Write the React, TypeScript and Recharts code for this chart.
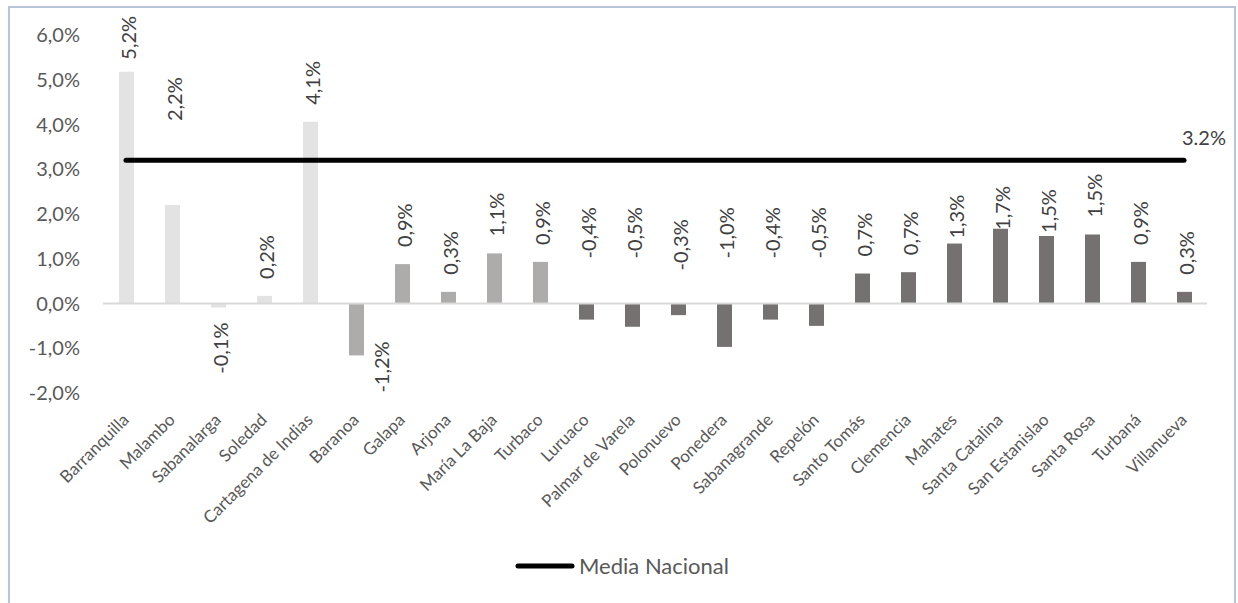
import React from 'react';
import { ComposedChart, Bar, Line, XAxis, YAxis, Cell, LabelList, Legend, ReferenceLine } from 'recharts';

// Variación por municipio (%)
const municipios = [
  'Barranquilla', 'Malambo', 'Sabanalarga', 'Soledad', 'Cartagena de Indias',
  'Baranoa', 'Galapa', 'Arjona', 'María La Baja', 'Turbaco',
  'Luruaco', 'Palmar de Varela', 'Polonuevo', 'Ponedera', 'Sabanagrande', 'Repelón',
  'Santo Tomás', 'Clemencia', 'Mahates', 'Santa Catalina', 'San Estanislao', 'Santa Rosa',
  'Turbaná', 'Villanueva',
];
const variacion = [
  5.18, 2.2, -0.09, 0.17, 4.06,
  -1.16, 0.88, 0.26, 1.12, 0.93,
  -0.36, -0.52, -0.26, -0.97, -0.36, -0.5,
  0.67, 0.7, 1.34, 1.67, 1.51, 1.54,
  0.93, 0.26,
];
const grupo = [
  'a', 'a', 'a', 'a', 'a',
  'b', 'b', 'b', 'b', 'b',
  'c', 'c', 'c', 'c', 'c', 'c',
  'c', 'c', 'c', 'c', 'c', 'c',
  'c', 'c',
];
const mediaNacional = 3.2;
const yTicks = [-2, -1, 0, 1, 2, 3, 4, 5, 6];

const data = municipios.map((m, i) => ({
  municipio: m,
  valor: variacion[i],
  grupo: grupo[i],
  media: mediaNacional,
}));

const FONT = 'Lato, "Open Sans", sans-serif';
const colores: Record<string, string> = { a: '#e3e3e3', b: '#aeabab', c: '#767171' };

// ajustes manuales de algunas etiquetas
const labelNudge: Record<string, { dx: number; dy: number }> = {
  Barranquilla: { dx: 0, dy: 5 },
  Malambo: { dx: 0, dy: -67 },
  Baranoa: { dx: 23, dy: -29 },
  Polonuevo: { dx: 0, dy: 12 },
  Mahates: { dx: 0, dy: 12 },
  'Santa Catalina': { dx: 0, dy: 18 },
  'San Estanislao': { dx: 0, dy: 14 },
};

const fmtComa = (v: number) => v.toFixed(1).replace('.', ',') + '%';

const BarValueLabel = (props: any) => {
  const { x, y, width, height, value, index } = props;
  const top = Math.min(y, y + height);
  const bottom = Math.max(y, y + height);
  const nudge = labelNudge[municipios[index]] || { dx: 0, dy: 0 };
  const cx = x + width / 2 + 1 + nudge.dx;
  let ay: number;
  let anchor: 'start' | 'end' = 'start';
  if (value >= 0) {
    ay = top - 17;
  } else if (grupo[index] === 'c') {
    ay = top - 45;
  } else {
    ay = bottom + 15;
    anchor = 'end';
  }
  ay += nudge.dy;
  return (
    <text
      transform={`translate(${cx},${ay}) rotate(-90)`}
      textAnchor={anchor}
      dominantBaseline="central"
      fontSize={20}
      fontFamily={FONT}
      fill="#404040"
    >
      {fmtComa(value)}
    </text>
  );
};

const MediaLabel = (props: any) => {
  const { x, y, value, index } = props;
  if (index !== municipios.length - 1) return null;
  return (
    <text x={x - 2} y={y - 15} fontSize={20} fontFamily={FONT} fill="#404040">
      {value.toFixed(1) + '%'}
    </text>
  );
};

const CategoryTick = (props: any) => {
  const { x, y, payload } = props;
  const ax = x + 4;
  const ay = y + 28;
  return (
    <text
      x={ax}
      y={ay}
      transform={`rotate(-45, ${ax}, ${ay})`}
      textAnchor="end"
      fontSize={17}
      fontFamily={FONT}
      fill="#595959"
    >
      {payload.value}
    </text>
  );
};

const LegendContent = () => (
  <div style={{ width: 1224, height: 40, display: 'flex', justifyContent: 'center', alignItems: 'center' }}>
    <svg width={60} height={10} style={{ marginRight: 4 }}>
      <line x1={3} y1={5} x2={57} y2={5} stroke="#000" strokeWidth={5} strokeLinecap="round" />
    </svg>
    <span style={{ fontFamily: FONT, fontSize: 22, color: '#595959', lineHeight: '40px' }}>Media Nacional</span>
  </div>
);

export default function App() {
  return (
    <div
      style={{
        marginLeft: 8,
        marginTop: 6,
        width: 1228,
        height: 610,
        boxSizing: 'border-box',
        border: '2px solid #b8c4d9',
        borderBottom: 'none',
        background: '#fff',
        fontFamily: FONT,
      }}
    >
      <style>{'body{margin:0;overflow:hidden;background:#fff}'}</style>
      <ComposedChart width={1224} height={600} data={data} margin={{ top: 27, right: 27, left: 0, bottom: 22 }}>
        <XAxis
          dataKey="municipio"
          interval={0}
          axisLine={false}
          tickLine={false}
          tickSize={0}
          tickMargin={0}
          height={153}
          tick={<CategoryTick />}
        />
        <YAxis
          domain={[-2, 6]}
          ticks={yTicks}
          width={93}
          axisLine={false}
          tickLine={false}
          tickSize={0}
          tickMargin={23}
          tickFormatter={(v: number) => fmtComa(v)}
          tick={{ fontSize: 20, fill: '#595959', fontFamily: FONT }}
        />
        <ReferenceLine y={0} stroke="#d9d9d9" strokeWidth={2} />
        <Bar dataKey="valor" barSize={15} isAnimationActive={false}>
          {data.map((d, i) => (
            <Cell key={i} fill={colores[d.grupo]} />
          ))}
          <LabelList dataKey="valor" content={<BarValueLabel />} />
        </Bar>
        <Line
          dataKey="media"
          type="linear"
          stroke="#000"
          strokeWidth={5}
          strokeLinecap="round"
          dot={false}
          activeDot={false}
          isAnimationActive={false}
        >
          <LabelList dataKey="media" content={<MediaLabel />} />
        </Line>
        <Legend verticalAlign="bottom" content={<LegendContent />} wrapperStyle={{ left: 0, width: 1224 }} />
      </ComposedChart>
    </div>
  );
}
